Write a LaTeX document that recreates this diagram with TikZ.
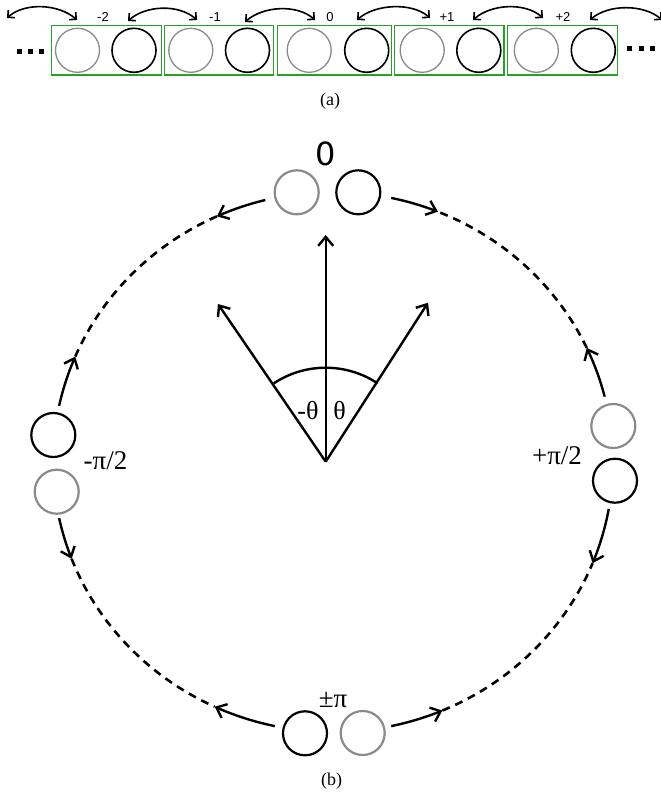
\documentclass[tikz,border=0pt]{standalone}
\usepackage{fontspec}
\setmainfont{Liberation Serif}
\newfontfamily\labelsans{Liberation Sans}
\newfontfamily\zerofont{DejaVu Sans}
\usetikzlibrary{arrows.meta}
\definecolor{boxgreen}{RGB}{40,160,40}
\definecolor{ringgray}{RGB}{138,138,138}
\begin{document}
\begin{tikzpicture}[x=1pt,y=-1pt,
  cella/.style={draw=boxgreen, line width=1.4pt, inner sep=0pt},
  grayballa/.style={circle, draw=ringgray, line width=1.3pt, minimum size=44pt, inner sep=0pt},
  blackballa/.style={circle, draw=black, line width=1.6pt, minimum size=44pt, inner sep=0pt},
  grayballb/.style={circle, draw=ringgray, line width=2.2pt, minimum size=44pt, inner sep=0pt},
  blackballb/.style={circle, draw=black, line width=2.2pt, minimum size=44pt, inner sep=0pt},
  hoparrow/.style={line width=1.6pt, {Straight Barb[length=5pt,width=10pt]}-{Straight Barb[length=5pt,width=10pt]}},
  ringarrow/.style={line width=2.4pt, -{Straight Barb[length=9pt,width=15pt]}},
  ringdash/.style={line width=2.6pt, dash pattern=on 8pt off 6pt},
  vecarrow/.style={line width=2.4pt, -{Straight Barb[length=9pt,width=15pt]}},
  idxlabel/.style={font=\labelsans\fontsize{13}{15}\selectfont, inner sep=0pt},
  caption/.style={font=\fontsize{18}{20}\selectfont, inner sep=0pt},
  phaselabel/.style={font=\fontsize{27}{30}\selectfont, inner sep=0pt},
  dotsq/.style={fill=black, minimum size=5pt, inner sep=0pt}
]
\useasboundingbox (0,0) rectangle (661,795);

% ---------------- (a) ----------------
\foreach \i/\l/\r/\g/\b/\lab/\lx in {1/51.7/161.7/77.5/134/-2/103,
                                      2/164.3/273.3/190.8/247.5/-1/215,
                                      3/277.7/391.7/309.2/366.7/0/330,
                                      4/394.3/504/422.2/478.8/+1/447,
                                      5/507.3/617.3/536.3/593.3/+2/563}{
  \node[cella, minimum width={\r-\l}, minimum height=49.3pt] (box\i) at ({(\l+\r)/2},50.3) {};
  \node[grayballa] (ga\i) at (\g,50.3) {};
  \node[blackballa] (ba\i) at (\b,50.3) {};
  \node[idxlabel] (lab\i) at (\lx,17) {\lab};
}
% dots
\foreach \k/\x/\y in {1/19/51,2/30/51,3/41/51,4/629.5/48,5/641/48,6/652.5/48}{
  \node[dotsq] (dot\k) at (\x,\y) {};
}
% hopping arrows
\coordinate (h1a) at (7,18);    \coordinate (h1b) at (77,20);
\coordinate (h2a) at (128,21);  \coordinate (h2b) at (197,20);
\coordinate (h3a) at (245,22);  \coordinate (h3b) at (315,20);
\coordinate (h4a) at (357,20);  \coordinate (h4b) at (430,18);
\coordinate (h5a) at (473,20);  \coordinate (h5b) at (543,18);
\coordinate (h6a) at (590,20);  \coordinate (h6b) at (662,20);
\foreach \k in {1,...,6}{
  \draw[hoparrow] (h\k a) .. controls +(18,-16) and +(-18,-16) .. (h\k b);
}
\node[caption] (capa) at (330,101) {(a)};

% ---------------- (b) ----------------
\node[grayballb]  (gtop)   at (296.7,192.3) {};
\node[blackballb] (btop)   at (358.3,192.3) {};
\node[blackballb] (bleft)  at (53.3,435) {};
\node[grayballb]  (gleft)  at (56.7,491.7) {};
\node[grayballb]  (gright) at (613.3,426) {};
\node[blackballb] (bright) at (615,480.7) {};
\node[blackballb] (bbot)   at (305,733.3) {};
\node[grayballb]  (gbot)   at (362.7,733) {};

\node[font=\zerofont\fontsize{32}{36}\selectfont, inner sep=0pt] (lzero) at (326,154) {0};
\node[phaselabel] (lmpi) at (105.5,461) {-π/2};
\node[phaselabel] (lppi) at (557,456) {+π/2};
\node[phaselabel] (lpm)  at (333,700) {±π};

\def\ecx{333}\def\ecy{462}\def\erx{280}\def\ery{270}
% solid arcs with arrowheads (leaving each ball)
\foreach \a/\e in {104/114.5, 168/157, 192/201, 258/245, 282/293, 350/338, 14/25, 78/68}{
  \draw[ringarrow] plot[domain=\a:\e, samples=25, variable=\t]
    ({\ecx+\erx*cos(\t)}, {\ecy-\ery*sin(\t)});
}
% dashed arcs between arrowheads
\foreach \a/\e in {114.5/157, 201/245, 293/338, 25/68}{
  \draw[ringdash] plot[domain=\a:\e, samples=60, variable=\t]
    ({\ecx+\erx*cos(\t)}, {\ecy-\ery*sin(\t)});
}

% angle vectors
\coordinate (O) at (325.7,461.7);
\coordinate (vup) at (325.7,235);
\coordinate (vleft) at (218,304);
\coordinate (vright) at (428,302.7);
\draw[vecarrow] (O) -- (vup);
\draw[vecarrow] (O) -- (vleft);
\draw[vecarrow] (O) -- (vright);
\draw[line width=2.4pt] plot[domain=123.5:56.5, samples=40, variable=\t]
  ({325.7+94*cos(\t)}, {461.7-94*sin(\t)});
\node[font=\fontsize{26}{29}\selectfont, inner sep=0pt] (lmt) at (308,411) {-θ};
\node[font=\fontsize{26}{29}\selectfont, inner sep=0pt] (lt) at (339.5,411) {θ};

\node[caption] (capb) at (331.5,781.5) {(b)};
\end{tikzpicture}
\end{document}
